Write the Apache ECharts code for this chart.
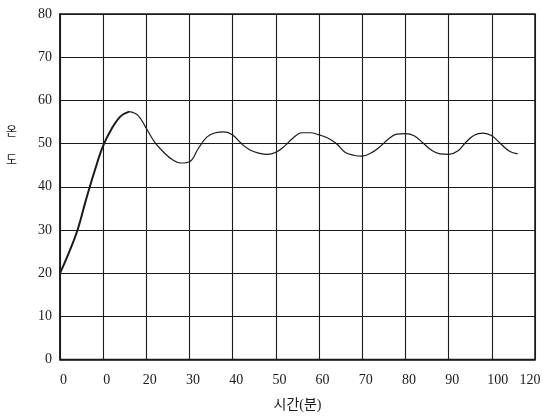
<!DOCTYPE html>
<html>
<head>
<meta charset="utf-8">
<script src="https://cdn.jsdelivr.net/npm/echarts@6/dist/echarts.min.js"></script>
<style>
  html, body { margin: 0; padding: 0; background: #fff; }
  #chart { width: 543px; height: 417px; }
</style>
</head>
<body>
<div id="chart"></div>
<script>
// Elapsed time (minutes) and temperature readings
const timeMin = [0, 2, 4, 6, 8, 10, 12, 14, 16, 18, 20, 22, 24, 26, 28, 30, 32, 34, 36, 38,
  40, 42, 44, 46, 48, 50, 52, 54, 56, 58, 60, 62, 64, 66, 68, 70, 72, 74, 76, 78,
  80, 82, 84, 86, 88, 90, 92, 94, 96, 98, 100, 102, 104, 106];
const temperature = [20, 24.6, 29.8, 36.9, 43.6, 49.5, 53.5, 56.3, 57.4, 56.6, 53.5, 50.2, 48, 46.3, 45.5, 45.8, 48.8, 51.5, 52.5, 52.7,
  52, 50, 48.5, 47.8, 47.5, 48, 49.4, 51.3, 52.5, 52.5, 52, 51.3, 50, 48, 47.3, 47.1, 47.8, 49.2, 51, 52.2,
  52.3, 51.8, 50.2, 48.5, 47.6, 47.5, 48.2, 50.3, 52, 52.4, 51.8, 50, 48.3, 47.6];

// Tick labels printed under the time axis
const xTickLabels = ['0', '0', '20', '30', '40', '50', '60', '70', '80', '90', '100', '120'];
const yTickLabels = ['0', '10', '20', '30', '40', '50', '60', '70', '80'];

// the heating ramp is inked heavier than the regulated part
const rampEndIndex = 8;

const serif = '"Liberation Serif", "Noto Sans CJK KR", serif';
const ink = '#1a1a1a';

const points = timeMin.map((t, i) => [t, temperature[i]]);

// label style per tick: most sit a little right of their gridline,
// the crowded last pair is nudged apart
function xLabel(v) {
  const i = Math.round(v / 10);
  const text = xTickLabels[i];
  if (i === xTickLabels.length - 1) return '{end|' + text + '}';
  if (i === xTickLabels.length - 2) return '{wide|' + text + '}';
  return '{std|' + text + '}';
}

const chart = echarts.init(document.getElementById('chart'), null, { renderer: 'canvas' });

chart.setOption({
  animation: false,
  backgroundColor: '#ffffff',
  grid: {
    left: 60, right: 8, top: 14, bottom: 57.5,
    containLabel: false,
    outerBoundsMode: 'none',
    show: true, borderColor: ink, borderWidth: 1.5, backgroundColor: 'transparent'
  },
  xAxis: {
    type: 'value',
    min: 0, max: 110, interval: 10,
    name: '시간(분)',
    nameLocation: 'middle',
    nameGap: 39,
    nameTextStyle: { fontFamily: serif, fontSize: 14, color: ink },
    axisLine: { show: true, lineStyle: { color: ink, width: 1.5 } },
    axisTick: { show: false },
    splitLine: { show: true, lineStyle: { color: ink, width: 1.1 } },
    axisLabel: {
      margin: 14,
      hideOverlap: false,
      fontFamily: serif, fontSize: 14, color: ink,
      formatter: xLabel,
      rich: {
        std: { fontFamily: serif, fontSize: 14, color: ink, padding: [0, 0, 0, 7] },
        wide: { fontFamily: serif, fontSize: 14, color: ink, padding: [0, 0, 0, 12] },
        end: { fontFamily: serif, fontSize: 14, color: ink, padding: [0, 10, 0, 0] }
      }
    }
  },
  yAxis: {
    type: 'value',
    min: 0, max: 80, interval: 10,
    axisLine: { show: true, lineStyle: { color: ink, width: 1.5 } },
    axisTick: { show: false },
    splitLine: { show: true, lineStyle: { color: ink, width: 1.1 } },
    axisLabel: {
      margin: 8,
      fontFamily: serif, fontSize: 14, color: ink,
      formatter: (v) => yTickLabels[Math.round(v / 10)]
    }
  },
  graphic: [{
    type: 'text',
    left: 6, top: 124,
    style: {
      text: '온\n\n도',
      font: '12px "Noto Sans CJK KR", sans-serif',
      fill: ink,
      lineHeight: 14
    }
  }],
  series: [{
    type: 'line',
    data: points.slice(0, rampEndIndex + 1),
    smooth: 0.4,
    symbol: 'none',
    lineStyle: { color: ink, width: 2 }
  }, {
    type: 'line',
    data: points.slice(rampEndIndex),
    smooth: 0.4,
    symbol: 'none',
    lineStyle: { color: ink, width: 1.2 }
  }]
});
</script>
</body>
</html>
